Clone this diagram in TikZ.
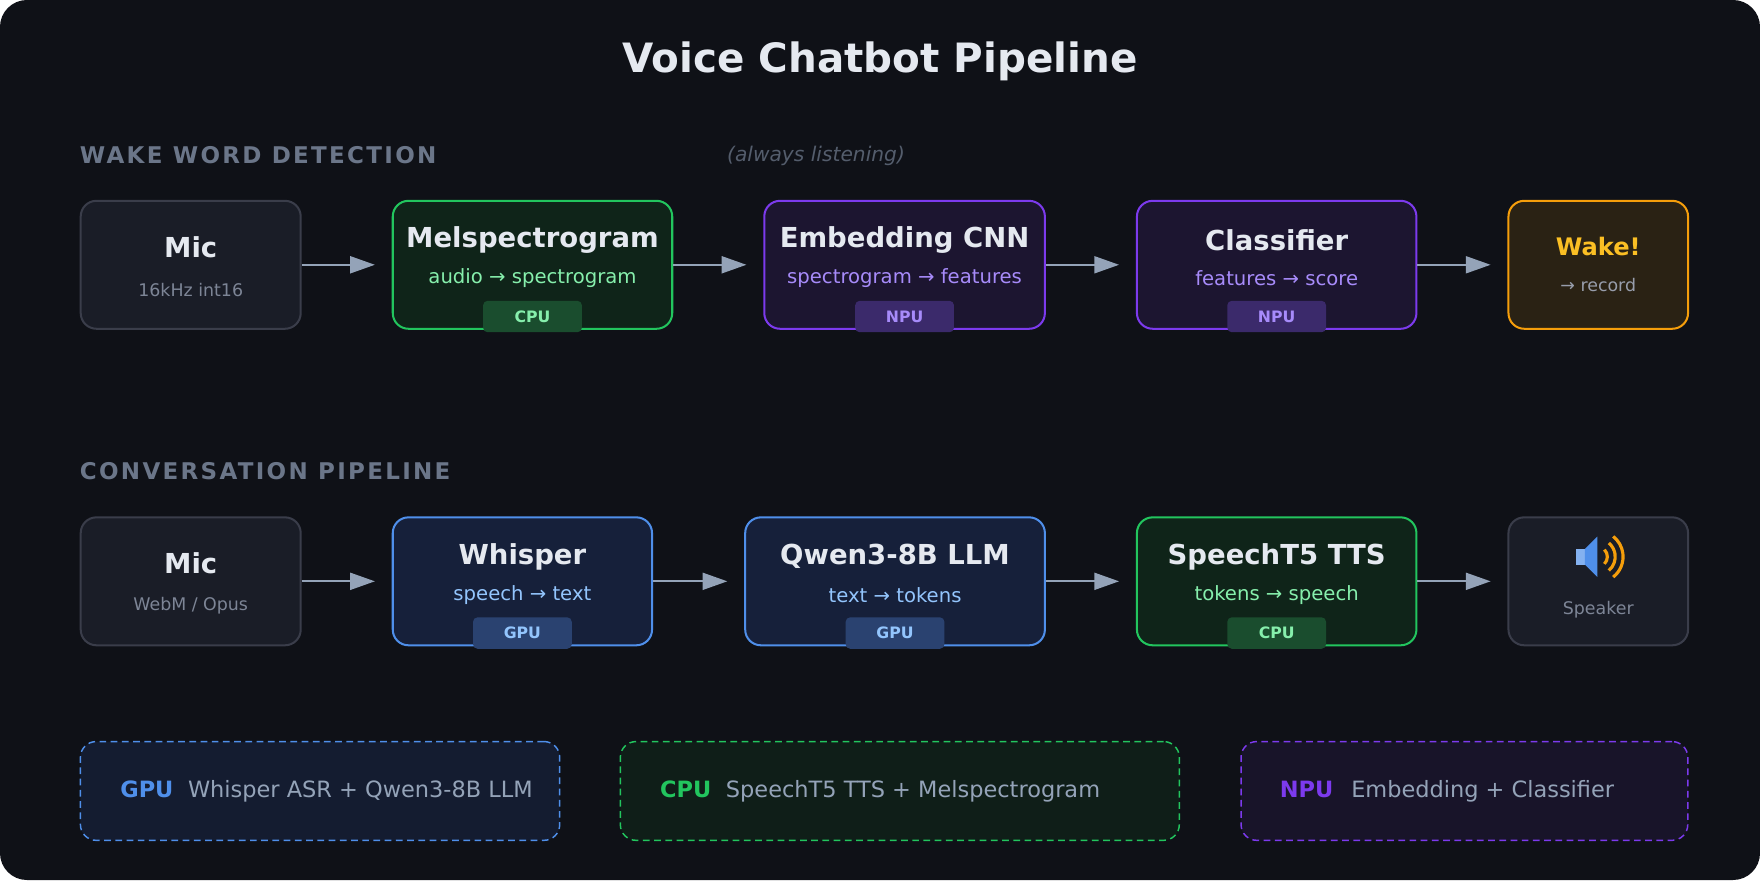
\documentclass[tikz,border=0pt]{standalone}
\usepackage{fontspec}
\setmainfont{DejaVu Sans}
\usetikzlibrary{arrows.meta}
\definecolor{bg}{HTML}{0F1117}
\definecolor{txt}{HTML}{E5E9F0}
\definecolor{sub}{HTML}{7D8596}
\definecolor{sec}{HTML}{6B7689}
\definecolor{arr}{HTML}{94A3B8}
\definecolor{gS}{HTML}{3A3D4A}\definecolor{gF}{HTML}{1A1D27}
\definecolor{grS}{HTML}{22C55E}\definecolor{grF}{HTML}{0F2419}\definecolor{grT}{HTML}{86EFAC}\definecolor{grB}{HTML}{1A4D2E}
\definecolor{pS}{HTML}{7C3AED}\definecolor{pF}{HTML}{1C1530}\definecolor{pT}{HTML}{A78BFA}\definecolor{pB}{HTML}{3B2A6B}
\definecolor{bS}{HTML}{4F8FEA}\definecolor{bF}{HTML}{16203A}\definecolor{bT}{HTML}{93C5FD}\definecolor{bB}{HTML}{2A4270}
\definecolor{oS}{HTML}{F59E0B}\definecolor{oF}{HTML}{2A2214}\definecolor{oT}{HTML}{FBBF24}
\definecolor{legT}{HTML}{94A3B8}
\tikzset{
 box/.style={draw, line width=1.8pt, rounded corners=14pt, anchor=north west, inner sep=0pt},
 ttl/.style={font=\fontsize{24.5}{28}\selectfont\bfseries, text=txt},
 sbt/.style={font=\fontsize{17.5}{20}\selectfont},
 badge/.style={rounded corners=4pt, minimum width=88pt, minimum height=28pt, inner sep=0pt, font=\fontsize{14}{16}\selectfont\bfseries},
 ar/.style={draw=arr, line width=2pt, -{Triangle[length=22pt,width=15pt]}},
 seclab/.style={anchor=west, inner sep=0pt, text=sec, font=\fontsize{20.5}{24}\selectfont\bfseries\addfontfeatures{LetterSpace=10}},
 leg/.style={draw, dashed, dash pattern=on 6pt off 4pt, line width=1.3pt, rounded corners=14pt, anchor=north west, inner sep=0pt},
}
\begin{document}
\begin{tikzpicture}[x=1pt,y=-1pt]
\fill[bg, rounded corners=24pt] (0,0) rectangle (1568,784);
\useasboundingbox (0,0) rectangle (1568,784);
\node[text=txt, font=\fontsize{36}{40}\selectfont\bfseries] (title) at (784,55) {Voice Chatbot Pipeline};
\node[seclab] (s1) at (71,138) {WAKE WORD DETECTION};
\node[text=sec!75!bg, font=\fontsize{18}{20}\selectfont\itshape] (al) at (727,139) {(always listening)};
\node[seclab] (s2) at (71,420) {CONVERSATION PIPELINE};
% row 1
\node[box, draw=gS, fill=gF, minimum width=196pt, minimum height=114pt] (m1) at (71,178) {};
\node[box, draw=grS, fill=grF, minimum width=249pt, minimum height=114pt] (mel) at (349,178) {};
\node[box, draw=pS, fill=pF, minimum width=250pt, minimum height=114pt] (emb) at (680,178) {};
\node[box, draw=pS, fill=pF, minimum width=249pt, minimum height=114pt] (cls) at (1012,178) {};
\node[box, draw=oS, fill=oF, minimum width=160pt, minimum height=114pt] (wk) at (1343,178) {};
% row 2
\node[box, draw=gS, fill=gF, minimum width=196pt, minimum height=114pt] (m2) at (71,460) {};
\node[box, draw=bS, fill=bF, minimum width=231pt, minimum height=114pt] (wh) at (349,460) {};
\node[box, draw=bS, fill=bF, minimum width=267pt, minimum height=114pt] (qw) at (663,460) {};
\node[box, draw=grS, fill=grF, minimum width=249pt, minimum height=114pt] (st) at (1012,460) {};
\node[box, draw=gS, fill=gF, minimum width=160pt, minimum height=114pt] (sp) at (1343,460) {};
% texts row1
\node[ttl] (m1t) at ([yshift=-42pt]m1.north) {Mic};
\node[sbt, text=sub, font=\fontsize{15.5}{18}\selectfont] (m1s) at ([yshift=-80pt]m1.north) {16kHz int16};
\node[ttl] (melt) at ([yshift=-36pt]mel.north) {Melspectrogram};
\node[sbt, text=grT] (mels) at ([yshift=-70pt]mel.north) {audio → spectrogram};
\node[badge, fill=grB, text=grT] (melb) at ([yshift=-104pt]mel.north) {CPU};
\node[ttl] (embt) at ([yshift=-36pt]emb.north) {Embedding CNN};
\node[sbt, text=pT] (embs) at ([yshift=-70pt]emb.north) {spectrogram → features};
\node[badge, fill=pB, text=pT] (embb) at ([yshift=-104pt]emb.north) {NPU};
\node[ttl] (clst) at ([yshift=-36pt]cls.north) {Classifier};
\node[sbt, text=pT] (clss) at ([yshift=-70pt]cls.north) {features → score};
\node[badge, fill=pB, text=pT] (clsb) at ([yshift=-104pt]cls.north) {NPU};
\node[ttl, text=oT, font=\fontsize{21.5}{24}\selectfont\bfseries] (wkt) at ([yshift=-42pt]wk.north) {Wake!};
\node[sbt, text=sub!80!white, font=\fontsize{15.5}{18}\selectfont] (wks) at ([yshift=-76pt]wk.north) {→ record};
% texts row2
\node[ttl] (m2t) at ([yshift=-42pt]m2.north) {Mic};
\node[sbt, text=sub, font=\fontsize{15.5}{18}\selectfont] (m2s) at ([yshift=-80pt]m2.north) {WebM / Opus};
\node[ttl] (wht) at ([yshift=-36pt]wh.north) {Whisper};
\node[sbt, text=bT] (whs) at ([yshift=-70pt]wh.north) {speech → text};
\node[badge, fill=bB, text=bT] (whb) at ([yshift=-104pt]wh.north) {GPU};
\node[ttl] (qwt) at ([yshift=-36pt]qw.north) {Qwen3-8B LLM};
\node[sbt, text=bT] (qws) at ([yshift=-70pt]qw.north) {text → tokens};
\node[badge, fill=bB, text=bT] (qwb) at ([yshift=-104pt]qw.north) {GPU};
\node[ttl] (stt) at ([yshift=-36pt]st.north) {SpeechT5 TTS};
\node[sbt, text=grT] (sts) at ([yshift=-70pt]st.north) {tokens → speech};
\node[badge, fill=grB, text=grT] (stb) at ([yshift=-104pt]st.north) {CPU};
\node[sbt, text=sub, font=\fontsize{15.5}{18}\selectfont] (sps) at ([yshift=-83pt]sp.north) {Speaker};
% speaker icon (local y upward)
\begin{scope}[shift={(1420,496)}, x=1pt, y=1pt]
 \fill[bS!70!white] (-16,-7) rectangle (-8,7);
 \fill[bS] (-8,-7) -- (3,-18) -- (3,18) -- (-8,7) -- cycle;
 \draw[oS, line width=2.8pt] (3,0) ++(-45:9) arc[start angle=-45, end angle=45, radius=9];
 \draw[oS, line width=2.8pt] (3,0) ++(-50:16) arc[start angle=-50, end angle=50, radius=16];
 \draw[oS, line width=2.8pt] (3,0) ++(-52:23) arc[start angle=-52, end angle=52, radius=23];
\end{scope}
% arrows
\foreach \a/\b in {m1/mel, mel/emb, emb/cls, cls/wk, m2/wh, wh/qw, qw/st, st/sp}
  \draw[ar, shorten >=15pt] (\a.east) -- (\b.west);
% legend
\node[leg, draw=bS, fill=bF!70!bg, minimum width=427pt, minimum height=88pt] (l1) at (71,660) {};
\node[leg, draw=grS, fill=grF!70!bg, minimum width=498pt, minimum height=88pt] (l2) at (552,660) {};
\node[leg, draw=pS, fill=pF!70!bg, minimum width=398pt, minimum height=88pt] (l3) at (1105,660) {};
\node[anchor=west, inner sep=0pt, font=\fontsize{20}{22}\selectfont] (l1t) at (107,705) {\textcolor{bS}{\bfseries GPU}\hspace{13pt}\textcolor{legT}{Whisper ASR + Qwen3-8B LLM}};
\node[anchor=west, inner sep=0pt, font=\fontsize{20}{22}\selectfont] (l2t) at (588,705) {\textcolor{grS}{\bfseries CPU}\hspace{13pt}\textcolor{legT}{SpeechT5 TTS + Melspectrogram}};
\node[anchor=west, inner sep=0pt, font=\fontsize{20}{22}\selectfont] (l3t) at (1140,705) {\textcolor{pS}{\bfseries NPU}\hspace{16pt}\textcolor{legT}{Embedding + Classifier}};
\end{tikzpicture}
\end{document}
